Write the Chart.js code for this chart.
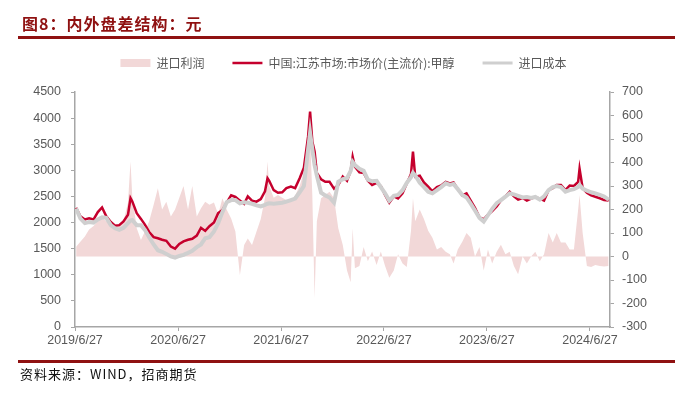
<!DOCTYPE html>
<html>
<head>
<meta charset="utf-8">
<script src="https://cdn.jsdelivr.net/npm/chart.js@4.4.1/dist/chart.umd.min.js"></script>
<style>
  html, body { margin: 0; padding: 0; background: #fff; }
  #wrap { position: relative; width: 687px; height: 395px; overflow: hidden; }
  #chart { position: absolute; left: 0; top: 0; }
  #title { position: absolute; left: 22px; top: 13px; font: bold 16px "Noto Sans CJK SC", sans-serif; color: #8f1111; letter-spacing: 1px; line-height: 20px; }
  .rule { position: absolute; left: 18px; width: 657px; height: 2.5px; background: #8f1111; }
  #source { position: absolute; left: 20px; top: 366px; font: 13px "Noto Sans CJK SC", sans-serif; color: #111; letter-spacing: 1px; line-height: 16px; }
</style>
</head>
<body>
<div id="wrap">
  <canvas id="chart" width="687" height="395"></canvas>
  <div id="title">图8：内外盘差结构：元</div>
  <div class="rule" style="top:36px"></div>
  <div class="rule" style="top:360px"></div>
  <div id="source">资料来源：WIND，招商期货</div>
</div>
<script>
// dates (roughly half-monthly, plus the spike days)
const dates = [
  "2019-07-01","2019-07-16","2019-08-01","2019-08-16","2019-09-01","2019-09-16","2019-10-01","2019-10-16",
  "2019-11-01","2019-11-16","2019-12-01","2019-12-16","2020-01-01","2020-01-10","2020-01-16","2020-02-01",
  "2020-02-16","2020-03-01","2020-03-16","2020-04-01","2020-04-16","2020-05-01","2020-05-16","2020-06-01",
  "2020-06-16","2020-07-01","2020-07-16","2020-08-01","2020-08-16","2020-09-01","2020-09-16","2020-10-01",
  "2020-10-16","2020-11-01","2020-11-16","2020-12-01","2020-12-16","2021-01-01","2021-01-16","2021-02-01",
  "2021-02-16","2021-03-01","2021-03-16","2021-04-01","2021-04-16","2021-05-01","2021-05-10","2021-05-16",
  "2021-06-01","2021-06-16","2021-07-01","2021-07-16","2021-08-01","2021-08-16","2021-09-01","2021-09-16",
  "2021-10-01","2021-10-08","2021-10-16","2021-10-24","2021-11-01","2021-11-16","2021-12-01","2021-12-16",
  "2022-01-01","2022-01-16","2022-02-01","2022-02-16","2022-03-01","2022-03-08","2022-03-16","2022-04-01",
  "2022-04-16","2022-05-01","2022-05-16","2022-06-01","2022-06-16","2022-07-01","2022-07-16","2022-08-01",
  "2022-08-16","2022-09-01","2022-09-16","2022-10-01","2022-10-08","2022-10-16","2022-11-01","2022-11-16",
  "2022-12-01","2022-12-16","2023-01-01","2023-01-16","2023-02-01","2023-02-16","2023-03-01","2023-03-16",
  "2023-04-01","2023-04-16","2023-05-01","2023-05-16","2023-06-01","2023-06-16","2023-07-01","2023-07-16",
  "2023-08-01","2023-08-16","2023-09-01","2023-09-16","2023-10-01","2023-10-16","2023-11-01","2023-11-16",
  "2023-12-01","2023-12-16","2024-01-01","2024-01-16","2024-02-01","2024-02-16","2024-03-01","2024-03-16",
  "2024-04-01","2024-04-16","2024-05-01","2024-05-16","2024-05-21","2024-06-01","2024-06-16","2024-07-01",
  "2024-07-16","2024-08-01","2024-08-16","2024-09-01"
];

// 中国:江苏市场:市场价(主流价):甲醇
const marketPrice = [
  2280,2120,2060,2080,2060,2200,2290,2120, 2010,1940,1950,2020,2150,2470,2410,2180,
  2070,1960,1820,1720,1700,1670,1650,1540, 1500,1590,1640,1670,1690,1750,1900,1840,
  1930,2000,2180,2240,2380,2520,2490,2420, 2360,2500,2420,2400,2450,2600,2850,2800,
  2620,2570,2580,2660,2690,2660,2850,3050, 3650,4125,3550,3360,2950,2830,2780,2780,
  2650,2720,2880,2800,2990,3260,3070,2960, 2950,2800,2720,2760,2700,2530,2380,2500,
  2460,2560,2750,2930,3360,2880,2900,2770, 2690,2600,2680,2710,2780,2750,2770,2640,
  2520,2560,2420,2280,2100,2060,2150,2220, 2310,2420,2500,2590,2500,2440,2470,2420,
  2460,2490,2460,2420,2620,2660,2720,2720, 2620,2710,2700,2780,3030,2660,2570,2520,
  2495,2465,2430,2420
];

// 进口成本
const importCost = [
  2270,2080,1990,2010,2000,2060,2100,2090, 1950,1890,1860,1900,1990,2040,2050,1950,
  1950,1860,1720,1580,1470,1440,1400,1350, 1330,1360,1380,1420,1460,1530,1580,1700,
  1720,1830,1990,2200,2390,2430,2430,2370, 2390,2380,2360,2330,2310,2340,2360,2370,
  2360,2370,2380,2400,2430,2460,2580,2700, 3400,3720,3400,3100,2900,2570,2520,2480,
  2380,2780,2830,2850,2990,3160,3100,3030, 2990,2820,2790,2800,2680,2560,2420,2510,
  2530,2620,2760,2870,2950,2900,2760,2680, 2590,2560,2620,2680,2750,2720,2740,2640,
  2530,2480,2360,2230,2090,2020,2140,2260, 2370,2430,2495,2560,2540,2510,2480,2490,
  2470,2490,2440,2500,2620,2680,2700,2680, 2590,2620,2640,2680,2720,2650,2610,2580,
  2560,2530,2500,2440
];

// 进口利润 (right axis)
const importProfit = [
  42,63,85,115,130,150,165,150, 130,120,134,150,230,404,260,120,
  70,106,150,220,290,200,233,170, 200,250,300,200,300,170,205,233,
  220,230,180,248,200,162,106,-80, 49,77,49,106,160,250,404,300,
  250,262,250,240,240,260,300,361, 446,517,260,-178,150,248,262,276,
  248,120,49,-60,-110,120,-50,-40, 40,-20,21,-36,21,-40,-90,-60,
  10,-30,-45,110,248,150,200,160, 110,80,30,40,20,10,-30,30,
  63,100,80,0,40,-60,30,-30, 20,50,10,20,-40,-75,0,-30,
  0,20,-20,10,100,60,100,60, 60,30,30,200,262,100,-40,-45,
  -36,-40,-43,-40
];

const tickDates = ["2019-06-27","2020-06-27","2021-06-27","2022-06-27","2023-06-27","2024-06-27"];
const tickLabels = ["2019/6/27","2020/6/27","2021/6/27","2022/6/27","2023/6/27","2024/6/27"];

const startDay = Date.UTC(2019, 5, 27);
function dayOf(s) {
  const [y, m, d] = s.split("-").map(Number);
  return (Date.UTC(y, m - 1, d) - startDay) / 86400000;
}
const toPoints = vals => dates.map((d, i) => ({ x: dayOf(d), y: vals[i] }));

Chart.defaults.font.family = "'Liberation Sans', Arial, sans-serif";
Chart.defaults.color = "#595959";

const axisColor = "#a6a6a6";

// push the plot area down a little below the legend
const legendSpace = {
  id: "legendSpace",
  beforeLayout(chart) {
    const lg = chart.legend;
    if (lg && !lg._patched) {
      const fit = lg.fit;
      lg.fit = function () { fit.call(this); this.height += 13; };
      lg._patched = true;
    }
  }
};

new Chart(document.getElementById("chart"), {
  type: "line",
  data: {
    datasets: [
      {
        label: "进口利润",
        data: toPoints(importProfit),
        yAxisID: "y1",
        backgroundColor: "#f2d8d8",
        borderColor: "#f2d8d8",
        borderWidth: 0,
        fill: "origin",
        pointRadius: 0,
        pointStyle: "rect",
        tension: 0,
        order: 3
      },
      {
        label: "中国:江苏市场:市场价(主流价):甲醇",
        data: toPoints(marketPrice),
        yAxisID: "y",
        borderColor: "#c5002d",
        backgroundColor: "#c5002d",
        borderWidth: 2.5,
        pointRadius: 0,
        pointStyle: "line",
        tension: 0,
        order: 2
      },
      {
        label: "进口成本",
        data: toPoints(importCost),
        yAxisID: "y",
        borderColor: "#cfcfcf",
        backgroundColor: "#cfcfcf",
        borderWidth: 4,
        pointRadius: 0,
        pointStyle: "line",
        tension: 0,
        order: 1
      }
    ]
  },
  options: {
    responsive: false,
    animation: false,
    layout: { padding: { top: 29, left: 0, right: 0, bottom: 38 } },
    plugins: {
      tooltip: { enabled: false },
      legend: {
        position: "top",
        labels: {
          usePointStyle: true,
          pointStyleWidth: 30,
          boxHeight: 8,
          padding: 28,
          color: "#595959",
          font: { family: "'Noto Sans CJK SC', sans-serif", size: 12 },
          sort: (a, b) => a.datasetIndex - b.datasetIndex,
          generateLabels(chart) {
            const items = Chart.defaults.plugins.legend.labels.generateLabels(chart);
            items.forEach(it => { if (it.lineWidth > 3) it.lineWidth = 3; });
            return items;
          }
        }
      }
    },
    scales: {
      x: {
        type: "linear",
        min: 0,
        max: 1898,
        afterBuildTicks(scale) {
          scale.ticks = tickDates.map(d => ({ value: dayOf(d) }));
        },
        afterFit(scale) { scale.height = 30; },
        ticks: {
          autoSkip: false,
          maxRotation: 0,
          padding: 2,
          font: { size: 12.5 },
          callback: (v, i) => tickLabels[i]
        },
        grid: { drawOnChartArea: false, drawTicks: true, tickLength: 4, color: axisColor },
        border: { color: axisColor, width: 1.5 }
      },
      y: {
        position: "left",
        min: 0,
        max: 4500,
        afterFit(scale) { scale.width = 75; },
        ticks: { stepSize: 500, padding: 10, font: { size: 12.5 }, callback: v => String(v) },
        grid: { drawOnChartArea: false, drawTicks: true, tickLength: 4, color: axisColor },
        border: { color: axisColor, width: 1.5 }
      },
      y1: {
        position: "right",
        min: -300,
        max: 700,
        afterFit(scale) { scale.width = 77; },
        ticks: { stepSize: 100, padding: 8, font: { size: 12.5 }, callback: v => String(v) },
        grid: { drawOnChartArea: false, drawTicks: true, tickLength: 4, color: axisColor },
        border: { color: axisColor, width: 1.5 }
      }
    }
  },
  plugins: [legendSpace]
});
</script>
</body>
</html>
